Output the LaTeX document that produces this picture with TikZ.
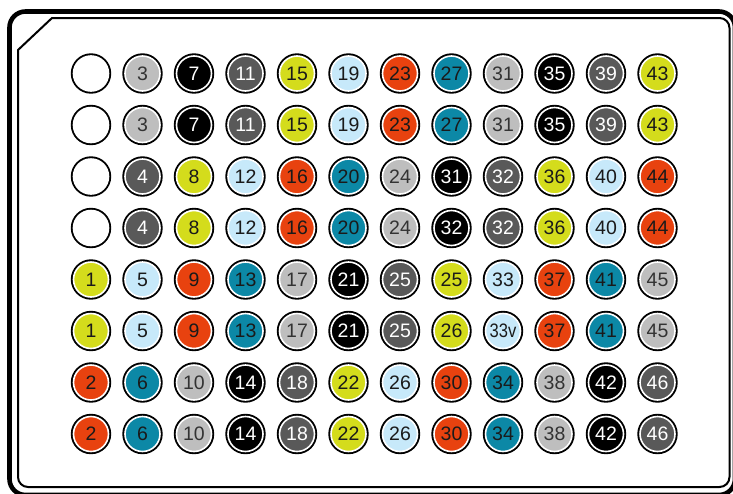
\documentclass[tikz,border=0pt]{standalone}
\usepackage{fontspec}
\setmainfont{Liberation Sans}
\definecolor{clg}{HTML}{BEBEBE}
\definecolor{cdg}{HTML}{595959}
\definecolor{cyy}{HTML}{D4DC1C}
\definecolor{clb}{HTML}{C7E9FA}
\definecolor{crr}{HTML}{E8420F}
\definecolor{ctt}{HTML}{0C88A6}
\definecolor{ctxt}{HTML}{1A1A1A}
\tikzset{
  well/.style={circle, minimum size=35pt, inner sep=0pt, draw=white, line width=1.6pt,
    preaction={draw=black, line width=5.4pt}, text=ctxt,
    font=\fontsize{19.5}{19.5}\selectfont},
  c-ww/.style={fill=white},
  c-lg/.style={fill=clg, text=black!80},
  c-dg/.style={fill=cdg, text=white},
  c-kk/.style={fill=black, text=white},
  c-yy/.style={fill=cyy},
  c-lb/.style={fill=clb},
  c-rr/.style={fill=crr},
  c-tt/.style={fill=ctt},
}
\newcommand\wellrow[2]{%
  \foreach [count=\c] \col/\lab in {#2} {
    \node[well, c-\col] (w-#1-\c) at ({91+51.5*(\c-1)}, {73.5+51.5*(#1-1)}) {\lab};
  }%
}
\begin{document}
\begin{tikzpicture}[x=1pt, y=-1pt]
\useasboundingbox (0,0) rectangle (733,493);
\fill[white] (0,0) rectangle (733,493);
% plate frame
\draw[line width=4.6pt, rounded corners=16pt] (9.5,11.5) rectangle (735,495);
\draw[line width=2pt] (18,50) -- (52,18) [rounded corners=10pt] -- (729.5,18) -- (729.5,487) -- (18,487) [sharp corners] -- cycle;
% wells
\wellrow{1}{ww/{},lg/3,kk/7,dg/11,yy/15,lb/19,rr/23,tt/27,lg/31,kk/35,dg/39,yy/43}
\wellrow{2}{ww/{},lg/3,kk/7,dg/11,yy/15,lb/19,rr/23,tt/27,lg/31,kk/35,dg/39,yy/43}
\wellrow{3}{ww/{},dg/4,yy/8,lb/12,rr/16,tt/20,lg/24,kk/31,dg/32,yy/36,lb/40,rr/44}
\wellrow{4}{ww/{},dg/4,yy/8,lb/12,rr/16,tt/20,lg/24,kk/32,dg/32,yy/36,lb/40,rr/44}
\wellrow{5}{yy/1,lb/5,rr/9,tt/13,lg/17,kk/21,dg/25,yy/25,lb/33,rr/37,tt/41,lg/45}
\wellrow{6}{yy/1,lb/5,rr/9,tt/13,lg/17,kk/21,dg/25,yy/26,lb/{\scalebox{0.85}[1]{33v}},rr/37,tt/41,lg/45}
\wellrow{7}{rr/2,tt/6,lg/10,kk/14,dg/18,yy/22,lb/26,rr/30,tt/34,lg/38,kk/42,dg/46}
\wellrow{8}{rr/2,tt/6,lg/10,kk/14,dg/18,yy/22,lb/26,rr/30,tt/34,lg/38,kk/42,dg/46}
\end{tikzpicture}
\end{document}
